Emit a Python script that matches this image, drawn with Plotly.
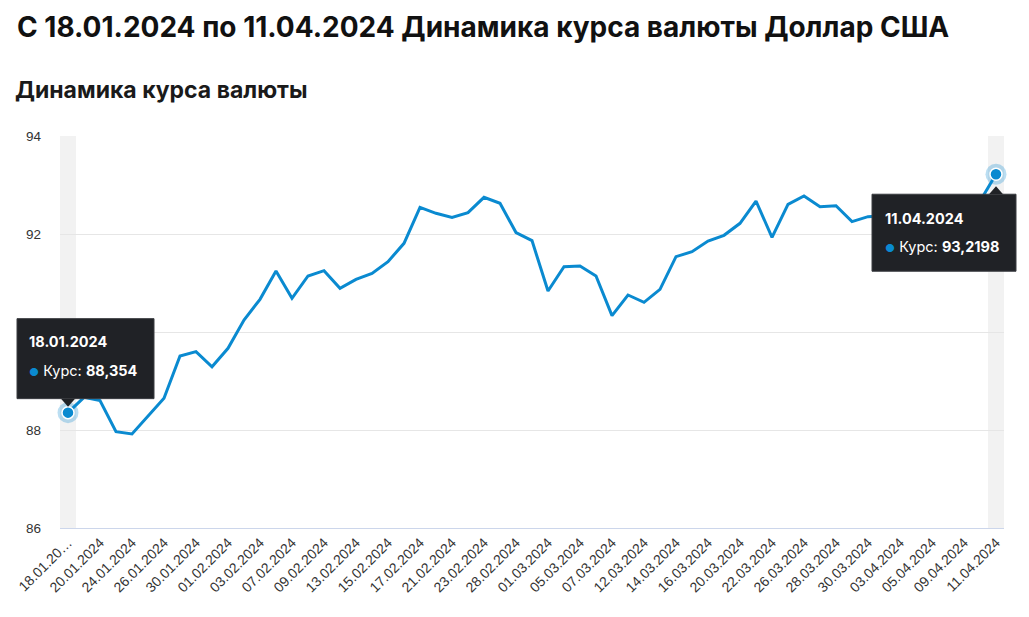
import plotly.graph_objects as go

dates = ["18.01.2024","19.01.2024","20.01.2024","23.01.2024","24.01.2024","25.01.2024","26.01.2024","27.01.2024",
         "30.01.2024","31.01.2024","01.02.2024","02.02.2024","03.02.2024","06.02.2024","07.02.2024","08.02.2024",
         "09.02.2024","10.02.2024","13.02.2024","14.02.2024","15.02.2024","16.02.2024","17.02.2024","20.02.2024",
         "21.02.2024","22.02.2024","23.02.2024","27.02.2024","28.02.2024","29.02.2024","01.03.2024","02.03.2024",
         "05.03.2024","06.03.2024","07.03.2024","09.03.2024","12.03.2024","13.03.2024","14.03.2024","15.03.2024",
         "16.03.2024","19.03.2024","20.03.2024","21.03.2024","22.03.2024","23.03.2024","26.03.2024","27.03.2024",
         "28.03.2024","29.03.2024","30.03.2024","02.04.2024","03.04.2024","04.04.2024","05.04.2024","06.04.2024",
         "09.04.2024","10.04.2024","11.04.2024"]

rates = [88.354, 88.667, 88.60, 87.966, 87.918, 88.286, 88.647, 89.51,
         89.60, 89.29, 89.667, 90.245, 90.667, 91.245, 90.687, 91.143,
         91.252, 90.891, 91.075, 91.197, 91.435, 91.81, 92.544, 92.422,
         92.34, 92.435, 92.748, 92.626, 92.03, 91.864, 90.837, 91.333,
         91.347, 91.143, 90.333, 90.755, 90.605, 90.871, 91.537, 91.639,
         91.857, 91.973, 92.218, 92.673, 91.932, 92.605, 92.776, 92.558,
         92.578, 92.252, 92.354, 92.37, 92.50, 92.59, 92.45, 92.40,
         92.55, 92.67, 93.2198]

y_ticks = [86, 88, 90, 92, 94]
title_text = "С 18.01.2024 по 11.04.2024 Динамика курса валюты Доллар США"
subtitle_text = "Динамика курса валюты"
series_name = "Курс"

LINE = "#0a8ad0"
TIP_BG = "#202226"
FONT = "Inter, Roboto, sans-serif"
TICKFONT = "Liberation Sans, Arial, sans-serif"

W, H = 1029, 617
ML, MR, MT, MB = 60, 25, 136, 89
Y0, Y1 = y_ticks[0], y_ticks[-1]

n = len(dates)
xs = list(range(n))
tick_idx = xs[::2]
tick_txt = [dates[i] for i in tick_idx]
tick_txt[0] = "18.01.20…"

def px_(i):   # paper x of category i
    return (i + 0.5) / n

def py_(v):   # paper y of value v
    return (v - Y0) / (Y1 - Y0)

fig = go.Figure()

shapes = []
for i in (0, n - 1):
    shapes.append(dict(type="rect", xref="x", yref="paper", x0=i - 0.5, x1=i + 0.5, y0=0, y1=1,
                       fillcolor="#f2f2f2", line_width=0, layer="below"))

fig.add_trace(go.Scatter(x=xs, y=rates, mode="lines", line=dict(color=LINE, width=3),
                         hoverinfo="skip", showlegend=False))
ends = [0, n - 1]
fig.add_trace(go.Scatter(x=ends, y=[rates[i] for i in ends], mode="markers",
                         marker=dict(size=21, color="rgba(10,138,208,0.28)"), hoverinfo="skip",
                         showlegend=False, cliponaxis=False))
fig.add_trace(go.Scatter(x=ends, y=[rates[i] for i in ends], mode="markers",
                         marker=dict(size=12, color=LINE, line=dict(color="white", width=1.5)),
                         hoverinfo="skip", showlegend=False, cliponaxis=False))

def fmt(v):
    return f"{v:g}".replace(".", ",")

annotations = []
TIPFONT = dict(family=FONT, size=14.5, color="white")

def tooltip(i, box, tri, date_shift, line_shift):
    ax, ay = px_(i), py_(rates[i])
    shapes.append(dict(type="rect", xref="paper", yref="paper", xsizemode="pixel", ysizemode="pixel",
                       xanchor=ax, yanchor=ay, x0=box[0], x1=box[1], y0=box[2], y1=box[3],
                       fillcolor=TIP_BG, line=dict(color="#3a3c40", width=1), layer="above"))
    shapes.append(dict(type="path", xref="paper", yref="paper", xsizemode="pixel", ysizemode="pixel",
                       xanchor=ax, yanchor=ay, path=tri,
                       fillcolor=TIP_BG, line_width=0, layer="above"))
    annotations.append(dict(x=ax, y=ay, xref="paper", yref="paper", xanchor="left", yanchor="middle",
                            xshift=date_shift[0], yshift=date_shift[1], showarrow=False,
                            text=f"<b>{dates[i]}</b>", font=TIPFONT))
    annotations.append(dict(x=ax, y=ay, xref="paper", yref="paper", xanchor="left", yanchor="middle",
                            xshift=line_shift[0], yshift=line_shift[1], showarrow=False,
                            text=(f"<span style='color:{LINE};font-size:11px'>●</span> "
                                  f"{series_name}: <b>{fmt(rates[i])}</b>"),
                            font=TIPFONT))

tooltip(0, (-51, 86, 14, 94), "M-7,14 L7,14 L0,6 Z", (-41, 71), (-41, 42))
tooltip(n - 1, (-124, 20, -20, -97), "M-7,-20 L7,-20 L0,-12 Z", (-113, -44), (-113, -72))

# main title (positioned in container pixels converted to paper units)
pw, ph = W - ML - MR, H - MT - MB
annotations.append(dict(x=(15 - ML) / pw, y=(H - MB - 27) / ph, xref="paper", yref="paper",
                        xanchor="left", yanchor="middle", showarrow=False, text=f"<b>{title_text}</b>",
                        font=dict(family=FONT, size=28, color="#111111")))

fig.update_layout(
    width=W, height=H,
    margin=dict(l=ML, r=MR, t=MT, b=MB),
    paper_bgcolor="white", plot_bgcolor="white",
    shapes=shapes, annotations=annotations,
    title=dict(text=f"<b>{subtitle_text}</b>", x=15 / W, xref="container", xanchor="left",
               y=1 - 90 / H, yref="container", yanchor="middle",
               font=dict(family=FONT, size=23, color="#1a1a1a")),
    xaxis=dict(range=[-0.5, n - 0.5], tickmode="array", tickvals=tick_idx, ticktext=tick_txt,
               tickangle=-45, showgrid=False, zeroline=False, showline=True, linecolor="#ccd6eb",
               linewidth=1, ticks="", tickfont=dict(family=TICKFONT, size=14, color="#333333")),
    yaxis=dict(range=[Y0, Y1], tickmode="array", tickvals=y_ticks, ticktext=[str(t) for t in y_ticks],
               showgrid=True, gridcolor="#e6e6e6", gridwidth=1, zeroline=False, showline=False,
               ticks="", ticklabelstandoff=18,
               tickfont=dict(family=TICKFONT, size=13.5, color="#333333")),
    hovermode=False,
)

fig.write_html("out.html")
